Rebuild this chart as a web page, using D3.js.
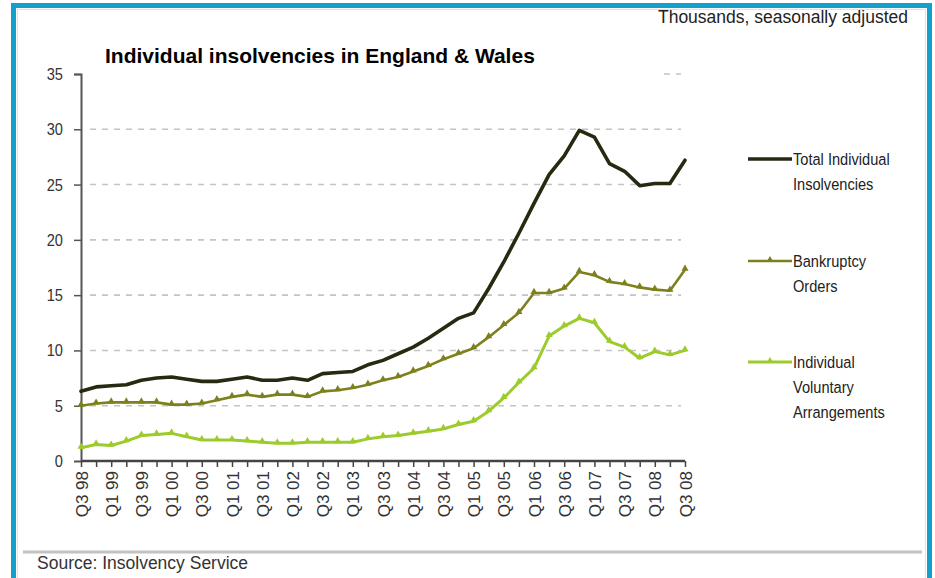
<!DOCTYPE html>
<html>
<head>
<meta charset="utf-8">
<script src="https://cdn.jsdelivr.net/npm/d3@7"></script>
<style>
  html, body { margin: 0; padding: 0; background: #fff; }
  svg { display: block; }
  text { font-family: "Liberation Sans", Arial, sans-serif; }
</style>
</head>
<body>
<svg id="chart" width="935" height="578"></svg>
<script>
// ---- Data (thousands, seasonally adjusted) ----
const quarters = [
  "Q3 98","Q4 98","Q1 99","Q2 99","Q3 99","Q4 99","Q1 00","Q2 00","Q3 00","Q4 00",
  "Q1 01","Q2 01","Q3 01","Q4 01","Q1 02","Q2 02","Q3 02","Q4 02","Q1 03","Q2 03",
  "Q3 03","Q4 03","Q1 04","Q2 04","Q3 04","Q4 04","Q1 05","Q2 05","Q3 05","Q4 05",
  "Q1 06","Q2 06","Q3 06","Q4 06","Q1 07","Q2 07","Q3 07","Q4 07","Q1 08","Q2 08",
  "Q3 08"
];
const tickLabels = ["Q3 98","Q1 99","Q3 99","Q1 00","Q3 00","Q1 01","Q3 01","Q1 02","Q3 02","Q1 03",
  "Q3 03","Q1 04","Q3 04","Q1 05","Q3 05","Q1 06","Q3 06","Q1 07","Q3 07","Q1 08","Q3 08"];
const yTicks = [0, 5, 10, 15, 20, 25, 30, 35];

const totalInsolvencies = [
  6.3, 6.7, 6.8, 6.9, 7.3, 7.5, 7.6, 7.4, 7.2, 7.2,
  7.4, 7.6, 7.3, 7.3, 7.5, 7.3, 7.9, 8.0, 8.1, 8.7,
  9.1, 9.7, 10.3, 11.1, 12.0, 12.9, 13.4, 15.6, 18.0, 20.6,
  23.3, 25.9, 27.6, 29.9, 29.3, 26.9, 26.2, 24.9, 25.1, 25.1,
  27.2
];
const bankruptcyOrders = [
  5.0, 5.2, 5.3, 5.3, 5.3, 5.3, 5.1, 5.1, 5.2, 5.5,
  5.8, 6.0, 5.8, 6.0, 6.0, 5.8, 6.3, 6.4, 6.6, 6.9,
  7.3, 7.6, 8.1, 8.6, 9.2, 9.7, 10.2, 11.2, 12.3, 13.4,
  15.2, 15.2, 15.6, 17.1, 16.8, 16.2, 16.0, 15.7, 15.5, 15.4,
  17.3
];
const ivas = [
  1.2, 1.5, 1.4, 1.8, 2.3, 2.4, 2.5, 2.2, 1.9, 1.9,
  1.9, 1.8, 1.7, 1.6, 1.6, 1.7, 1.7, 1.7, 1.7, 2.0,
  2.2, 2.3, 2.5, 2.7, 2.9, 3.3, 3.6, 4.5, 5.7, 7.1,
  8.4, 11.3, 12.2, 12.9, 12.5, 10.8, 10.3, 9.3, 9.9, 9.6,
  10.0
];
const seriesNames = ["Total Individual\nInsolvencies", "Bankruptcy\nOrders", "Individual\nVoluntary\nArrangements"];
const titleText = "Individual insolvencies in England & Wales";
const unitText = "Thousands, seasonally adjusted";
const sourceText = "Source: Insolvency Service";

// ---- Layout ----
const svg = d3.select("#chart");
const W = 935, H = 578;
const plot = { left: 81, right: 685, top: 74, bottom: 461 };
const NARROW = 0.86;

const x = d3.scalePoint().domain(quarters).range([plot.left, plot.right]);
const y = d3.scaleLinear().domain([0, 35]).range([plot.bottom, plot.top]);

// frame
svg.append("rect").attr("x", 0).attr("y", 0).attr("width", W).attr("height", H).attr("fill", "#fff");
svg.append("rect").attr("x", 17.5).attr("y", 9.5).attr("width", 908).attr("height", 600)
  .attr("fill", "none").attr("stroke", "#e2e2e2").attr("stroke-width", 1);
svg.append("rect").attr("x", 13.5).attr("y", 5.5).attr("width", 916).attr("height", 620)
  .attr("fill", "none").attr("stroke", "#13a0cd").attr("stroke-width", 5);

// gridlines
const grid = svg.append("g");
grid.selectAll("line").data(yTicks.filter(d => d > 0)).join("line")
  .attr("x1", d => d === 35 ? 664 : plot.left + 9)
  .attr("x2", plot.right - 4)
  .attr("y1", d => y(d)).attr("y2", d => y(d))
  .attr("stroke", "#c4c4c4").attr("stroke-width", 1.6)
  .attr("stroke-dasharray", "6,6");

// y axis
const yAxis = d3.axisLeft(y).tickValues(yTicks).tickSize(7).tickPadding(5).tickFormat(d3.format("d"));
const gy = svg.append("g").attr("transform", `translate(${plot.left},0)`).call(yAxis);
gy.select(".domain").attr("stroke", "#555").attr("stroke-width", 2);
gy.selectAll(".tick line").attr("stroke", "#555").attr("stroke-width", 1.5);
gy.selectAll(".tick text").attr("font-size", 17).attr("fill", "#333")
  .attr("font-family", "Liberation Sans, Arial, sans-serif")
  .attr("x", 0).attr("transform", `translate(-18,0) scale(${NARROW},1)`);
gy.selectAll(".tick").filter(d => d === 0).select("line").remove();

// x axis
const xAxis = d3.axisBottom(x).tickSize(6).tickFormat(d => tickLabels.includes(d) ? d : "");
const gx = svg.append("g").attr("transform", `translate(0,${plot.bottom})`).call(xAxis);
gx.select(".domain").attr("stroke", "#444").attr("stroke-width", 2.5).attr("d", `M${plot.left},0H${plot.right}`);
gx.selectAll(".tick line").attr("stroke", "#444").attr("stroke-width", 1.5);
gx.selectAll(".tick text")
  .attr("font-family", "Liberation Sans, Arial, sans-serif")
  .attr("font-size", 17).attr("fill", "#333")
  .attr("text-anchor", "end")
  .attr("transform", "rotate(-90)")
  .attr("x", -10).attr("y", 0).attr("dy", "0.36em");

// lines
const series = [
  { name: seriesNames[0], values: totalInsolvencies, color: "#262a10", width: 3.6, marker: false },
  { name: seriesNames[1], values: bankruptcyOrders, color: "#7e801e", width: 2.6, marker: true },
  { name: seriesNames[2], values: ivas, color: "#9ccb2c", width: 3.0, marker: true }
];
const line = d3.line().x((d, i) => x(quarters[i])).y(d => y(d));
const tri = d3.symbol().type(d3.symbolTriangle).size(22);

series.slice().reverse().forEach(s => {
  svg.append("path").datum(s.values).attr("d", line)
    .attr("fill", "none").attr("stroke", s.color).attr("stroke-width", s.width)
    .attr("stroke-linejoin", "round").attr("stroke-linecap", "round");
  if (s.marker) {
    svg.append("g").selectAll("path").data(s.values).join("path")
      .attr("d", tri)
      .attr("transform", (d, i) => `translate(${x(quarters[i])},${y(d) - 1})`)
      .attr("fill", s.color);
  }
});

// legend
const legendY = [159, 261, 362];
const lg = svg.append("g");
series.forEach((s, k) => {
  const g = lg.append("g").attr("transform", `translate(748,${legendY[k]})`);
  g.append("line").attr("x1", 0).attr("x2", 44).attr("y1", 0).attr("y2", 0)
    .attr("stroke", s.color).attr("stroke-width", s.width);
  if (s.marker) g.append("path").attr("d", tri).attr("transform", "translate(22,-1)").attr("fill", s.color);
  s.name.split("\n").forEach((t, j) => {
    g.append("text").attr("transform", `translate(45,${j * 25}) scale(${NARROW},1)`).attr("dy", "0.36em")
      .attr("font-size", 17).attr("fill", "#222").text(t);
  });
});

// title & texts
svg.append("text").attr("x", 105).attr("y", 63)
  .attr("font-weight", "bold").attr("font-size", 21).attr("fill", "#000").text(titleText);
svg.append("text").attr("x", 908).attr("y", 23).attr("text-anchor", "end")
  .attr("font-size", 17.5).attr("fill", "#222").text(unitText);

svg.append("line").attr("x1", 23).attr("x2", 922).attr("y1", 552).attr("y2", 552)
  .attr("stroke", "#c2c2c2").attr("stroke-width", 3);
svg.append("text").attr("x", 37).attr("y", 569)
  .attr("font-size", 17.5).attr("fill", "#333").text(sourceText);
</script>
</body>
</html>
